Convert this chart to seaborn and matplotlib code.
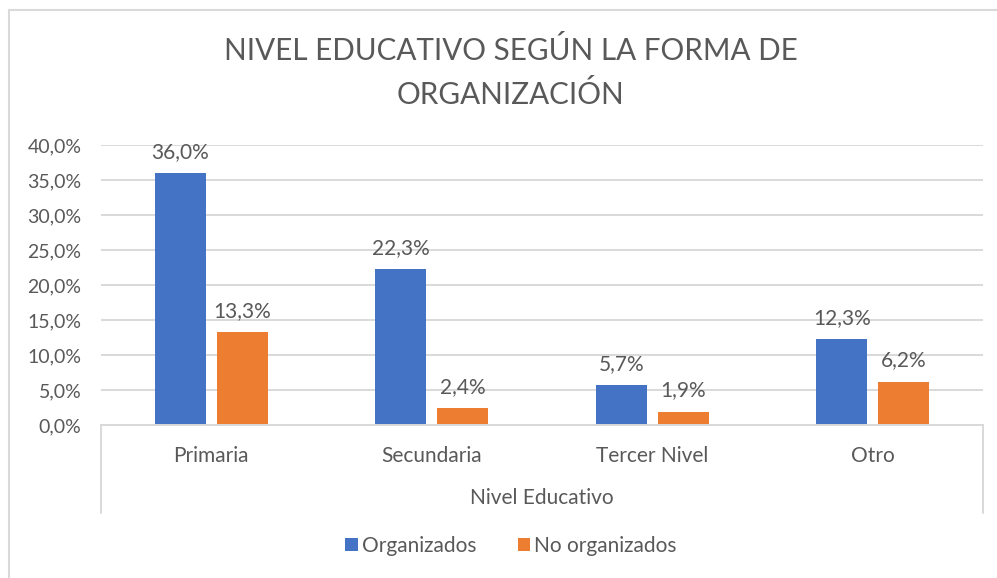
import pandas as pd
import matplotlib.pyplot as plt
import seaborn as sns
from matplotlib.lines import Line2D
from matplotlib.patches import Patch

sns.set_theme(style="white")
plt.rcParams['font.family'] = ['Lato', 'DejaVu Sans']

# Datos
niveles = ['Primaria', 'Secundaria', 'Tercer Nivel', 'Otro']
organizados = [0.360, 0.223, 0.057, 0.123]
no_organizados = [0.133, 0.024, 0.019, 0.062]
series = ['Organizados', 'No organizados']
colores = ['#4472C4', '#ED7D31']

df = pd.DataFrame({
    'Nivel Educativo': niveles * 2,
    'Valor': organizados + no_organizados,
    'Grupo': [series[0]] * 4 + [series[1]] * 4,
})

gris = '#595959'
linea = '#d9d9d9'

fig = plt.figure(figsize=(9.97, 5.78), dpi=100)
ax = fig.add_axes([101 / 997, 1 - 425 / 578, 882 / 997, 280 / 578])

sns.barplot(data=df, x='Nivel Educativo', y='Valor', hue='Grupo',
            palette=colores, width=0.562, gap=0.177, ax=ax, legend=False,
            saturation=1, linewidth=0)

# Eje Y
ax.set_ylim(0, 0.40)
ax.set_yticks([i * 0.05 for i in range(9)])
ax.set_yticklabels([f"{i * 5:.1f}%".replace('.', ',') for i in range(9)])
ax.yaxis.grid(True, color=linea, linewidth=1.4)
ax.set_axisbelow(True)
ax.tick_params(axis='y', length=0, pad=14, labelsize=14, labelcolor=gris)
ax.tick_params(axis='x', length=0, pad=15, labelsize=15, labelcolor=gris)
ax.set_ylabel('')
ax.set_xlabel('Nivel Educativo', fontsize=15, color=gris, labelpad=16)
for s in ['top', 'right', 'left']:
    ax.spines[s].set_visible(False)
ax.spines['bottom'].set_color(linea)
ax.spines['bottom'].set_linewidth(1.4)

# Caja del eje de categorías
for xx in [0, 1]:
    ax.add_line(Line2D([xx, xx], [0, -88 / 280], transform=ax.transAxes,
                       color=linea, linewidth=1.4, clip_on=False))

# Etiquetas de datos
for cont in ax.containers:
    etiquetas = [f"{b.get_height() * 100:.1f}%".replace('.', ',') for b in cont]
    ax.bar_label(cont, labels=etiquetas, padding=8, fontsize=15, color=gris)

# Título
fig.text(511 / 997, 1 - 72.5 / 578, 'NIVEL EDUCATIVO SEGÚN LA FORMA DE\nORGANIZACIÓN',
         ha='center', va='center', fontsize=21.3, color=gris, linespacing=1.62)

# Leyenda
handles = [Patch(facecolor=c, edgecolor='none') for c in colores]
fig.legend(handles, series, loc='center', bbox_to_anchor=(511 / 997, 1 - 546 / 578),
           ncol=2, frameon=False, fontsize=15, labelcolor=gris,
           handlelength=0.6, handleheight=0.6, handletextpad=0.2, columnspacing=2.0)

# Borde exterior
fig.add_artist(Line2D([9 / 997, 9 / 997], [0, 1 - 10 / 578], transform=fig.transFigure,
                      color=linea, linewidth=1.5))
fig.add_artist(Line2D([9 / 997, 1], [1 - 10 / 578, 1 - 10 / 578], transform=fig.transFigure,
                      color=linea, linewidth=1.5))

fig.savefig('out.png', dpi=100)
